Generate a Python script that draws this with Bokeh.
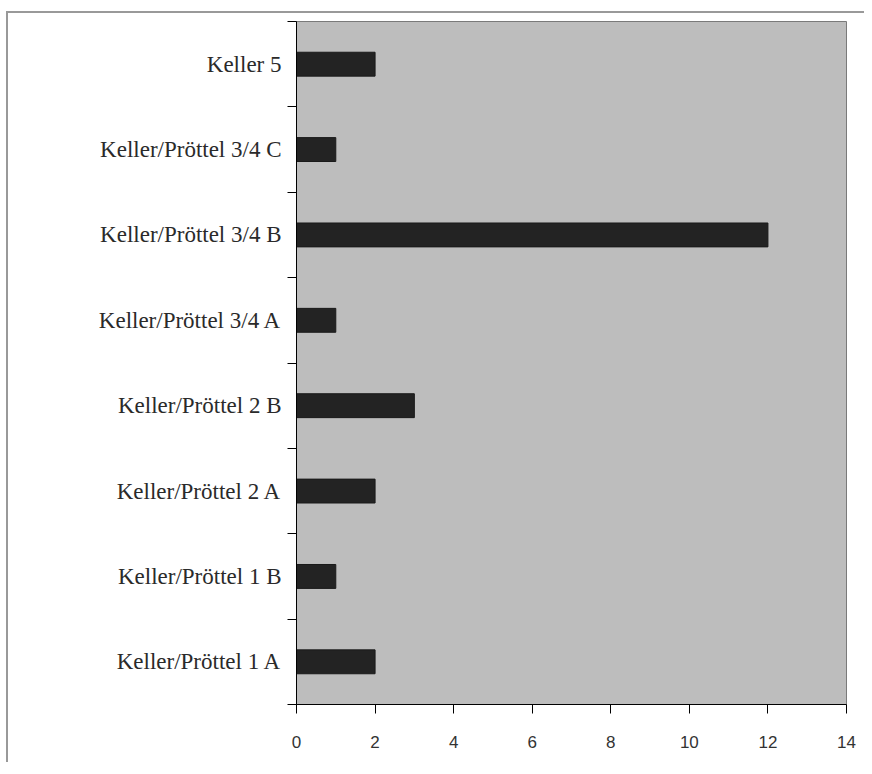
from bokeh.plotting import figure
from bokeh.models import FixedTicker, ColumnDataSource, Range1d
from bokeh.embed import file_html
from bokeh.resources import INLINE

categories = ["Keller/Pröttel 1 A", "Keller/Pröttel 1 B", "Keller/Pröttel 2 A",
              "Keller/Pröttel 2 B", "Keller/Pröttel 3/4 A", "Keller/Pröttel 3/4 B",
              "Keller/Pröttel 3/4 C", "Keller 5"]
values = [2, 1, 2, 3, 1, 12, 1, 2]
x_ticks = [0, 2, 4, 6, 8, 10, 12, 14]

pos = [i + 0.5 for i in range(len(categories))]
src = ColumnDataSource(dict(y=pos, v=values, cat=categories))

p = figure(width=858, height=751, output_backend="svg", toolbar_location=None,
           x_range=Range1d(0, 14), y_range=Range1d(0, len(categories)),
           min_border_left=288, min_border_right=20, min_border_top=8, min_border_bottom=60)
p.background_fill_color = "#bdbdbd"
p.border_fill_color = "white"
p.outline_line_color = "#7a7a7a"
p.xgrid.visible = False
p.ygrid.visible = False

p.hbar(y="y", left=0, right="v", height=0.28, source=src,
       fill_color="#232323", line_color="#1a1a1a")

p.xaxis.ticker = FixedTicker(ticks=x_ticks)
p.xaxis.minor_tick_line_color = None
p.xaxis.major_tick_out = 9
p.xaxis.major_tick_in = 0
p.xaxis.axis_line_color = "black"
p.xaxis.major_tick_line_color = "black"
p.xaxis.major_label_text_font = "Liberation Sans"
p.xaxis.major_label_text_font_size = "17px"
p.xaxis.major_label_text_color = "#333333"
p.xaxis.major_label_standoff = 22

p.yaxis.ticker = FixedTicker(ticks=pos, minor_ticks=list(range(len(categories) + 1)))
p.yaxis.major_label_overrides = {pos[i]: categories[i] for i in range(len(categories))}
p.yaxis.major_tick_out = 0
p.yaxis.major_tick_in = 0
p.yaxis.minor_tick_out = 9
p.yaxis.minor_tick_in = 0
p.yaxis.minor_tick_line_color = "black"
p.yaxis.axis_line_color = "black"
p.yaxis.major_label_text_font = "Liberation Serif"
p.yaxis.major_label_text_font_size = "23px"
p.yaxis.major_label_text_color = "#2a2a2a"
p.yaxis.major_label_standoff = 6

p.styles = {"border-left": "2px solid #999999", "border-top": "2px solid #999999",
            "margin-left": "6px", "margin-top": "11px"}

open("out.html", "w").write(file_html(p, INLINE))
